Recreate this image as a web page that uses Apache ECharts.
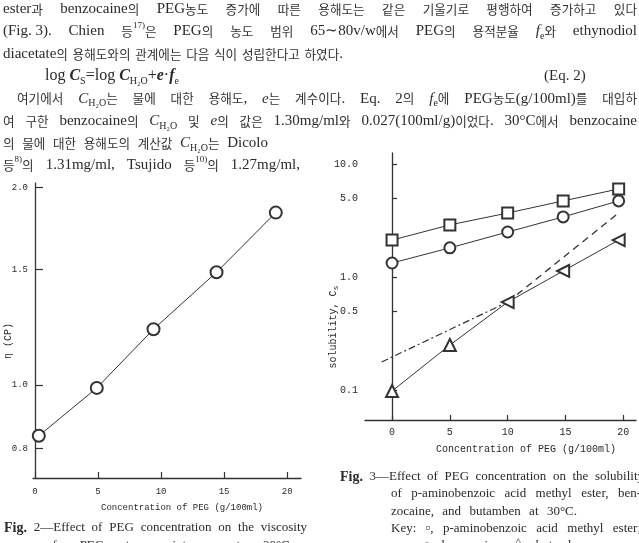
<!DOCTYPE html>
<html>
<head>
<meta charset="utf-8">
<script src="https://cdn.jsdelivr.net/npm/echarts@6/dist/echarts.min.js"></script>
<style>
  html, body { margin: 0; padding: 0; background: #fff; }
  #chart { width: 639px; height: 543px; }
</style>
</head>
<body>
<div id="chart"></div>
<script>
// Fig. 2 - viscosity of PEG-water mixtures
const visConc = [0.3, 4.9, 9.4, 14.4, 19.1];
const viscosity = [0.837, 0.99, 1.216, 1.485, 1.83];
const visTicks = [0.8, 1.0, 1.5, 2.0];

// Fig. 3 - solubility vs PEG concentration
const concX = [0, 5, 10, 14.8, 19.6];
const methylEster = [2.12, 2.89, 3.68, 4.71, 6.01];
const benzocaine = [1.33, 1.81, 2.50, 3.40, 4.71];
const butamben = [0.098, 0.25, 0.60, 1.13, 2.12];
const calcLowX = [-0.9, 10];
const calcLowY = [0.177, 0.60];
const calcHighX = [10, 19.7];
const calcHighY = [0.60, 3.76];
const solTicks = [0.1, 0.5, 1, 5, 10];
const concTicks = [0, 5, 10, 15, 20];

const SERIF = "'Liberation Serif','Noto Sans CJK KR',serif";
const HANGUL = "'Noto Sans CJK KR',sans-serif";
const MONO = "'Liberation Mono','DejaVu Sans Mono',monospace";
const INK = '#2a2a2a';

const ctx = document.createElement('canvas').getContext('2d');
const graphics = [];

function richStyles(size) {
  return {
    n: { font: size + 'px ' + SERIF, lineHeight: size + 5, fill: INK },
    k: { font: (size * 0.84).toFixed(1) + 'px ' + HANGUL, lineHeight: size + 5, fill: '#333' },
    i: { font: 'italic ' + size + 'px ' + SERIF, lineHeight: size + 5, fill: INK },
    bi: { font: 'italic bold ' + size + 'px ' + SERIF, lineHeight: size + 5, fill: INK },
    b: { font: 'bold ' + (size + 1) + 'px ' + SERIF, lineHeight: size + 5, fill: INK },
    sub: { font: Math.round(size * 0.65) + 'px ' + SERIF, lineHeight: Math.round(size * 0.8), verticalAlign: 'bottom', fill: INK },
    sup: { font: Math.round(size * 0.6) + 'px ' + SERIF, lineHeight: Math.round(size * 0.8), verticalAlign: 'top', fill: INK }
  };
}

// *x* italic, _{x} subscript, ^{x} superscript, #x# bold, %x% bold italic
function parse(word) {
  const re = /\*([^*]+)\*|_\{([^}]+)\}|\^\{([^}]+)\}|#([^#]+)#|%([^%]+)%|([^*_^#%]+)/g;
  const segs = [];
  let m;
  while ((m = re.exec(word))) {
    if (m[1]) segs.push(['i', m[1]]);
    else if (m[2]) segs.push(['sub', m[2]]);
    else if (m[3]) segs.push(['sup', m[3]]);
    else if (m[4]) segs.push(['b', m[4]]);
    else if (m[5]) segs.push(['bi', m[5]]);
    else {
      // hangul runs are set a little smaller than the latin text, as in the scan
      m[6].split(/([\uAC00-\uD7A3]+)/).forEach(p => {
        if (p) segs.push([/[\uAC00-\uD7A3]/.test(p) ? 'k' : 'n', p]);
      });
    }
  }
  return segs;
}

// spread words of one text line between x0 and x1 (justified like the scan)
function placeLine(words, x0, x1, y, size) {
  const st = richStyles(size);
  const items = words.map(w => {
    const segs = parse(w);
    let width = 0;
    segs.forEach(([k, t]) => { ctx.font = st[k].font; width += ctx.measureText(t).width; });
    return { text: segs.map(([k, t]) => '{' + k + '|' + t + '}').join(''), width };
  });
  const total = items.reduce((a, b) => a + b.width, 0);
  const gap = items.length > 1 ? (x1 - x0 - total) / (items.length - 1) : 0;
  let x = x0;
  items.forEach(it => {
    graphics.push({
      type: 'text', x: x, y: y, silent: true,
      style: { text: it.text, rich: st, align: 'left', verticalAlign: 'middle', fill: INK }
    });
    x += it.width + gap;
  });
}

function label(text, x, y, font, rotation, align) {
  graphics.push({
    type: 'text', x: x, y: y, rotation: rotation || 0, silent: true,
    style: { text: text, font: font, fill: INK, align: align || 'center', verticalAlign: 'middle' }
  });
}

// body text
const LS = 22.4, TY = 9;
placeLine(['ester과', 'benzocaine의', 'PEG농도', '증가에', '따른', '용해도는', '같은', '기울기로', '평행하여', '증가하고', '있다'], 3, 637, TY, 15);
placeLine(['(Fig. 3).', 'Chien', '등^{17)}은', 'PEG의', '농도', '범위', '65∼80v/w%에서', 'PEG의', '용적분율', '*f*_{e}와', 'ethynodiol'], 3, 637, TY + LS, 15);
placeLine(['diacetate의', '용해도와의', '관계에는', '다음', '식이', '성립한다고', '하였다.'], 3, 343, TY + LS * 2, 15);
placeLine(['log %C%_{S}=log %C%_{H₂O}+%e%·%f%_{e}'], 45, 192, TY + LS * 3, 16);
placeLine(['(Eq. 2)'], 544, 596, TY + LS * 3, 15);
placeLine(['여기에서', '*C*_{H₂O}는', '물에', '대한', '용해도,', '*e*는', '계수이다.', 'Eq.', '2의', '*f*_{e}에', 'PEG농도(g/100ml)를', '대입하'], 17, 637, TY + LS * 4, 15);
placeLine(['여', '구한', 'benzocaine의', '*C*_{H₂O}', '및', '*e*의', '값은', '1.30mg/ml와', '0.027(100ml/g)이었다.', '30°C에서', 'benzocaine'], 3, 637, TY + LS * 5, 15);
placeLine(['의', '물에', '대한', '용해도의', '계산값', '*C*_{H₂O}는', 'Dicolo'], 3, 268, TY + LS * 6, 15);
placeLine(['등^{8)}의', '1.31mg/ml,', 'Tsujido', '등^{10)}의', '1.27mg/ml,'], 3, 300, 165, 15);

// captions
placeLine(['#Fig.#', '2—Effect', 'of', 'PEG', 'concentration', 'on', 'the', 'viscosity'], 4, 307, 528, 13);
placeLine(['of', 'PEG–water', 'mixtures', 'at', '30°C.'], 46, 293, 546, 13);
placeLine(['#Fig.#', '3—Effect', 'of', 'PEG', 'concentration', 'on', 'the', 'solubility'], 340, 644, 477, 13);
placeLine(['of', 'p-aminobenzoic', 'acid', 'methyl', 'ester,', 'ben-'], 391, 641, 494, 13);
placeLine(['zocaine,', 'and', 'butamben', 'at', '30°C.'], 391, 577, 512, 13);
placeLine(['Key:', '▫,', 'p-aminobenzoic', 'acid', 'methyl', 'ester;'], 391, 641, 529, 13);
placeLine(['○,', 'benzocaine;', '△,', 'butamben'], 423, 587, 546, 13);

// axis names
label('Concentration of PEG (g/100ml)', 182, 508, '9px ' + MONO);
label('Concentration of PEG (g/100ml)', 526, 449, '10px ' + MONO);
label('η (CP)', 8, 341, '10px ' + MONO, Math.PI / 2);
graphics.push({
  type: 'text', x: 333, y: 327, rotation: Math.PI / 2, silent: true,
  style: {
    text: '{a|solubility, C}{s|s}', align: 'center', verticalAlign: 'middle',
    rich: {
      a: { font: '10px ' + MONO, lineHeight: 14, fill: INK },
      s: { font: '8px ' + MONO, lineHeight: 8, verticalAlign: 'bottom', fill: INK }
    }
  }
});

const axisLine = { lineStyle: { color: '#333', width: 1.3 } };
function tick(values, len) {
  return { show: true, inside: true, length: len, customValues: values, lineStyle: { color: '#333', width: 1.2 } };
}

const option = {
  backgroundColor: '#fff',
  animation: false,
  grid: [
    { left: 33, top: 183, width: 268, height: 295 },
    { left: 365, top: 153, width: 271, height: 267 }
  ],
  xAxis: [
    {
      gridIndex: 0, type: 'value', min: -0.16, max: 21.1,
      axisLine: axisLine, axisTick: tick(concTicks, 6),
      axisLabel: { customValues: concTicks, margin: 9, color: INK, fontFamily: MONO, fontSize: 9 },
      splitLine: { show: false }
    },
    {
      gridIndex: 1, type: 'value', min: -2.34, max: 21.1,
      axisLine: axisLine, axisTick: tick(concTicks, 5),
      axisLabel: { customValues: concTicks, margin: 7, color: INK, fontFamily: MONO, fontSize: 10 },
      splitLine: { show: false }
    }
  ],
  yAxis: [
    {
      gridIndex: 0, type: 'log', logBase: 10, min: 0.722, max: 2.03,
      axisLine: Object.assign({ show: true }, axisLine), axisTick: tick(visTicks, 8),
      axisLabel: { customValues: visTicks, margin: 5, color: INK, fontFamily: MONO, fontSize: 9,
        formatter: v => Number(v).toFixed(1) },
      splitLine: { show: false }, minorTick: { show: false }
    },
    {
      gridIndex: 1, type: 'log', logBase: 10, min: 0.0543, max: 12.5,
      axisLine: Object.assign({ show: true }, axisLine), axisTick: tick(solTicks, 5),
      axisLabel: { customValues: solTicks, margin: 7, color: INK, fontFamily: MONO, fontSize: 10,
        formatter: v => Number(v).toFixed(1) },
      splitLine: { show: false }, minorTick: { show: false }
    }
  ],
  series: [
    {
      name: 'viscosity', type: 'line', xAxisIndex: 0, yAxisIndex: 0,
      data: visConc.map((x, i) => [x, viscosity[i]]),
      symbol: 'emptyCircle', symbolSize: 12,
      lineStyle: { color: '#333', width: 1 }, itemStyle: { color: '#333', borderWidth: 1 }
    },
    {
      name: 'p-aminobenzoic acid methyl ester', type: 'line', xAxisIndex: 1, yAxisIndex: 1,
      data: concX.map((x, i) => [x, methylEster[i]]),
      symbol: 'emptyRect', symbolSize: 11,
      lineStyle: { color: '#333', width: 1 }, itemStyle: { color: '#333', borderWidth: 1 }
    },
    {
      name: 'benzocaine', type: 'line', xAxisIndex: 1, yAxisIndex: 1,
      data: concX.map((x, i) => [x, benzocaine[i]]),
      symbol: 'emptyCircle', symbolSize: 11,
      lineStyle: { color: '#333', width: 1 }, itemStyle: { color: '#333', borderWidth: 1 }
    },
    {
      name: 'butamben', type: 'line', xAxisIndex: 1, yAxisIndex: 1,
      data: concX.map((x, i) => ({ value: [x, butamben[i]], symbolRotate: i >= 2 ? 90 : 0 })),
      symbol: 'emptyTriangle', symbolSize: 12,
      lineStyle: { color: '#333', width: 1 }, itemStyle: { color: '#333', borderWidth: 1 }
    },
    {
      name: 'calc low', type: 'line', xAxisIndex: 1, yAxisIndex: 1, symbol: 'none',
      data: calcLowX.map((x, i) => [x, calcLowY[i]]),
      lineStyle: { color: '#333', width: 1.2, type: [7, 3, 2, 3] }
    },
    {
      name: 'calc high', type: 'line', xAxisIndex: 1, yAxisIndex: 1, symbol: 'none',
      data: calcHighX.map((x, i) => [x, calcHighY[i]]),
      lineStyle: { color: '#333', width: 1.3, type: [7, 5] }
    }
  ],
  graphic: graphics
};

const chart = echarts.init(document.getElementById('chart'));
chart.setOption(option);
</script>
</body>
</html>
